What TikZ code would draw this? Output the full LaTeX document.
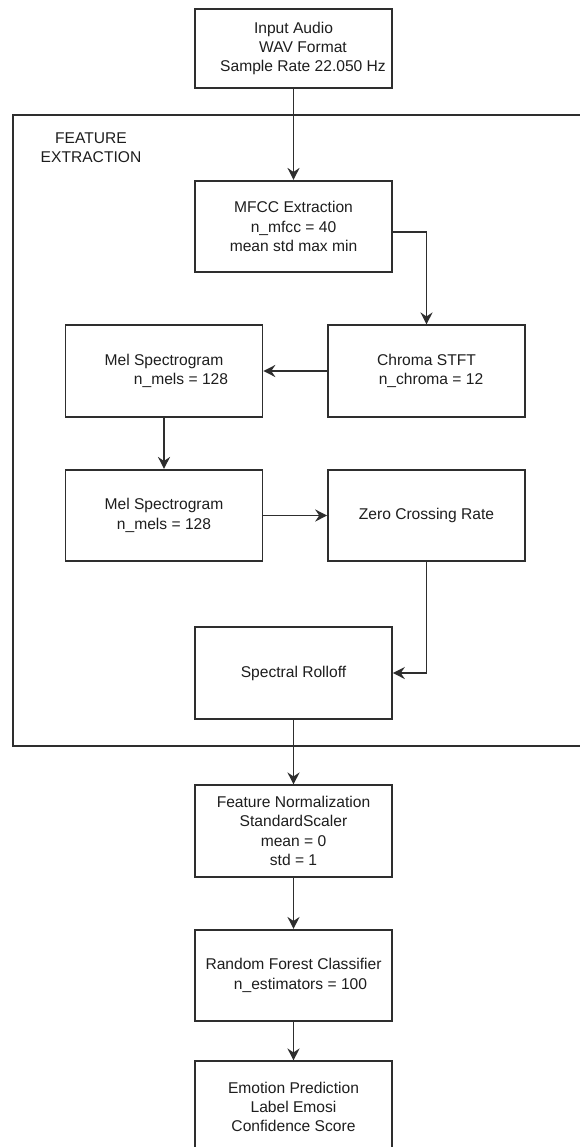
\documentclass[tikz,border=0pt]{standalone}
\usepackage{fontspec}
\setmainfont{Liberation Sans}
\usepackage{tikz}
\usetikzlibrary{arrows.meta}
\usepackage{xcolor}
\definecolor{linegray}{HTML}{2E2E2E}
\definecolor{textgray}{HTML}{1E1E1E}

\begin{document}
\begin{tikzpicture}[x=1pt,y=-1pt,
    box/.style={draw=linegray,line width=1.6pt,minimum width=197pt,minimum height=91.5pt,
        align=center,text=textgray,font=\fontsize{15.6}{19.3}\selectfont,inner sep=0pt},
    flow/.style={draw=linegray,line width=1.5pt,-{Stealth[length=12pt,width=12pt,inset=4pt]}}]
    \useasboundingbox (0,0) rectangle (580,1147);
    \clip (0,0) rectangle (580,1147);
    \fill[white] (0,0) rectangle (580,1147);

    % feature extraction frame
    \draw[linegray,line width=1.6pt] (13,115) rectangle (600,746);
    \node[align=center,text=textgray,font=\fontsize{15.6}{19.3}\selectfont] (fetitle) at (91,147.5) {FEATURE\\EXTRACTION};

    \node[box,minimum height=79pt] (input) at (293.5,48.5) {Input Audio\\\hspace*{19pt}WAV Format\\\hspace*{19pt}Sample Rate 22.050 Hz};
    \node[box] (mfcc) at (293.5,226.5) {MFCC Extraction\\n\_mfcc = 40\\mean std max min};
    \node[box] (chroma) at (426.5,371) {Chroma STFT\\\hspace*{9pt}n\_chroma = 12};
    \node[box] (mel1) at (164,371) {Mel Spectrogram\\\hspace*{34pt}n\_mels = 128};
    \node[box] (mel2) at (164,515.5) {Mel Spectrogram\\n\_mels = 128};
    \node[box] (zcr) at (426.5,515.5) {Zero Crossing Rate};
    \node[box] (rolloff) at (293.5,673) {Spectral Rolloff};
    \node[box] (norm) at (293.5,831) {Feature Normalization\\StandardScaler\\mean = 0\\std = 1};
    \node[box] (forest) at (293.5,975.5) {Random Forest Classifier\\\hspace*{14pt}n\_estimators = 100};
    \node[box] (emotion) at (293.5,1107) {Emotion Prediction\\Label Emosi\\Confidence Score};

    \draw[flow] (input.south) -- (mfcc.north);
    \draw[flow] ([yshift=-5.5pt]mfcc.east) -| (chroma.north);
    \draw[flow] (chroma.west) -- (mel1.east);
    \draw[flow] (mel1.south) -- (mel2.north);
    \draw[flow] (mel2.east) -- (zcr.west);
    \draw[flow] (zcr.south) |- (rolloff.east);
    \draw[flow] (rolloff.south) -- (norm.north);
    \draw[flow] (norm.south) -- (forest.north);
    \draw[flow] (forest.south) -- (emotion.north);
\end{tikzpicture}
\end{document}
